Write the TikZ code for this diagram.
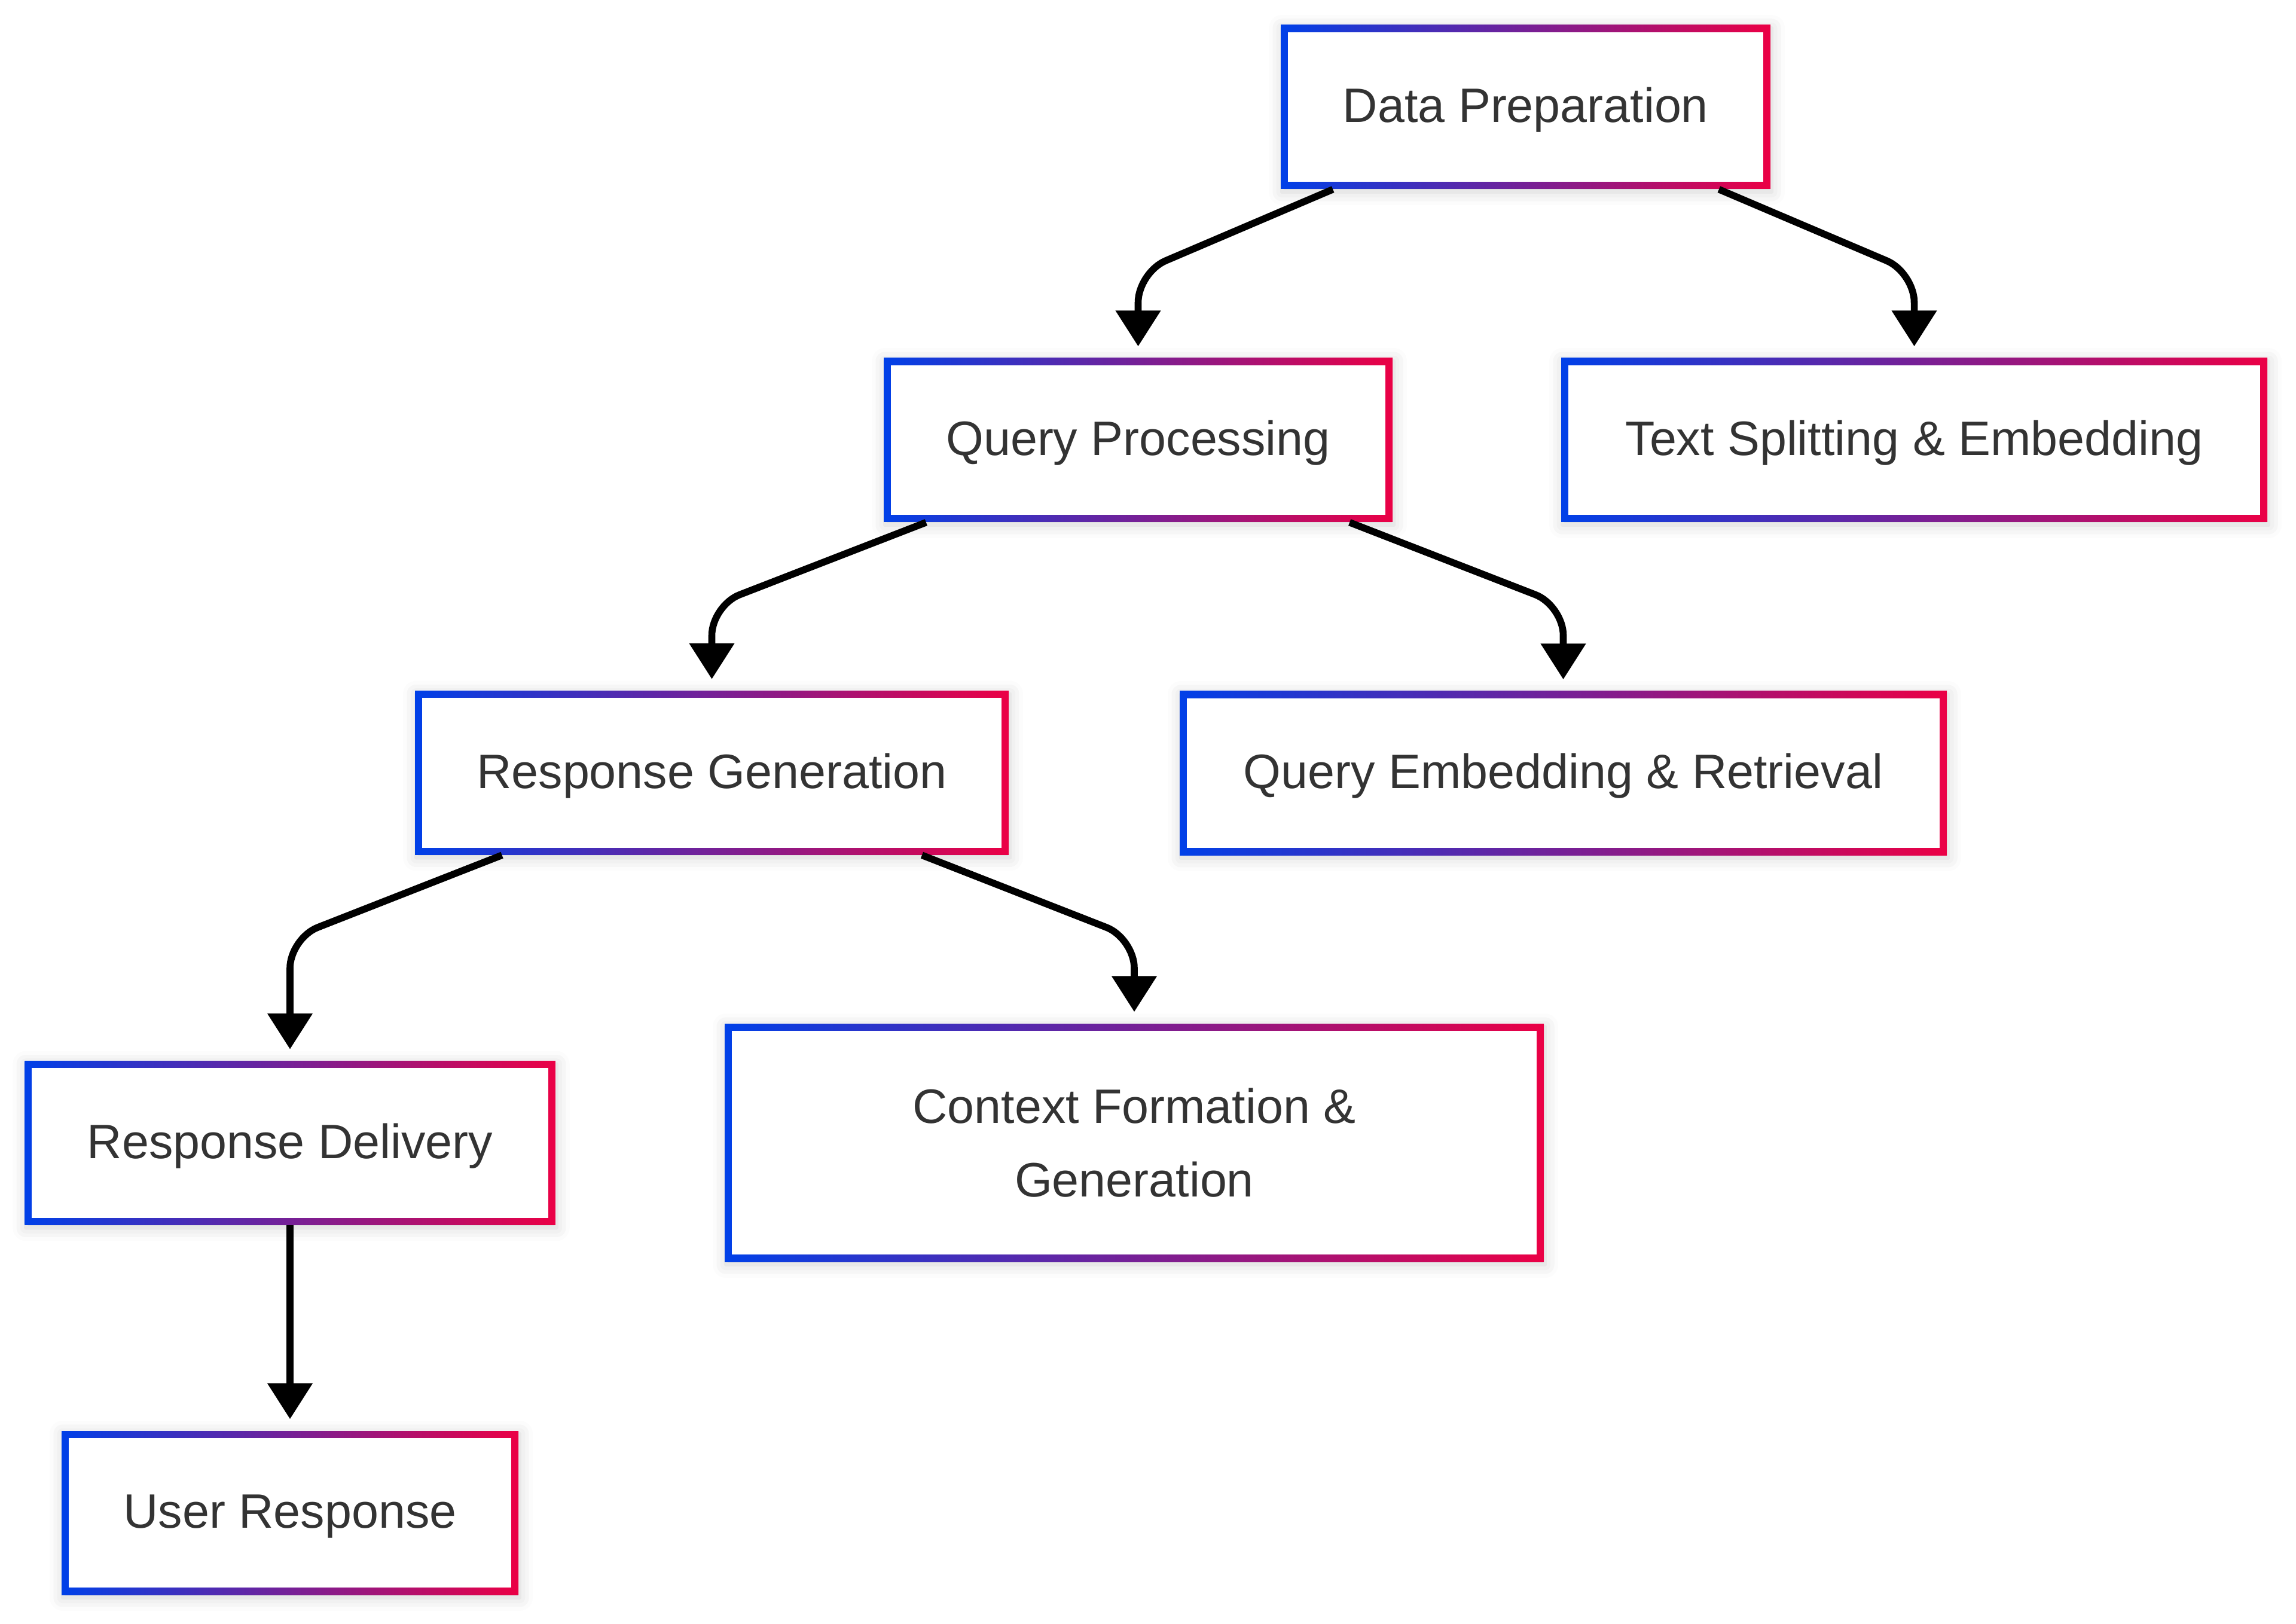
\documentclass[tikz,border=0pt]{standalone}
\usepackage{fontspec}
\setmainfont{Liberation Sans}
\usetikzlibrary{arrows.meta,shadows.blur}

\definecolor{mblue}{RGB}{0,64,232}
\definecolor{mred}{RGB}{235,0,69}
\definecolor{txtgray}{RGB}{51,51,51}

\tikzset{
  box/.style={minimum height=2.74cm, inner sep=0pt, align=center,
    text height=0.62cm, text depth=0.108cm,
    text=txtgray, font=\fontsize{23}{35}\selectfont,
    left color=mblue, right color=mred,
    blur shadow={shadow xshift=0.02cm, shadow yshift=-0.05cm,
      shadow blur radius=0.22cm, shadow opacity=18},
    path picture={\fill[white]
      ([shift={(0.117cm,0.117cm)}]path picture bounding box.south west) rectangle
      ([shift={(-0.117cm,-0.117cm)}]path picture bounding box.north east);}},
  flow/.style={line width=3.3pt, rounded corners=0.5cm, shorten >=0.19cm,
    -{Triangle[length=0.6cm,width=0.73cm]}}
}

\begin{document}
\begin{tikzpicture}
\useasboundingbox (0,0) rectangle (38.4,27.15);

\node[box, minimum width=8.19cm] (dp) at (25.515,25.36) {Data Preparation};
\node[box, minimum width=8.51cm] (qp) at (19.035,19.79) {Query Processing};
\node[box, minimum width=11.81cm] (ts) at (32.015,19.79) {Text Splitting \& Embedding};
\node[box, minimum width=9.93cm] (rg) at (11.905,14.225) {Response Generation};
\node[box, minimum width=12.83cm] (qe) at (26.145,14.22) {Query Embedding \& Retrieval};
\node[box, minimum width=8.875cm] (rd) at (4.85,8.035) {Response Delivery};
\node[box, minimum width=13.70cm, minimum height=3.98cm, text height=, text depth=]
    (cf) at (18.97,8.04) {Context Formation \&\\Generation};
\node[box, minimum width=7.64cm] (ur) at (4.85,1.85) {User Response};

\draw[flow] (dp) -- ([yshift=-1.39cm]dp.south -| qp.north) -- (qp);
\draw[flow] (dp) -- ([yshift=-1.39cm]dp.south -| ts.north) -- (ts);
\draw[flow] (qp) -- ([yshift=-1.39cm]qp.south -| rg.north) -- (rg);
\draw[flow] (qp) -- ([yshift=-1.39cm]qp.south -| qe.north) -- (qe);
\draw[flow] (rg) -- ([yshift=-1.39cm]rg.south -| rd.north) -- (rd);
\draw[flow] (rg) -- ([yshift=-1.39cm]rg.south -| cf.north) -- (cf);
\draw[flow] (rd) -- (ur);
\end{tikzpicture}
\end{document}
